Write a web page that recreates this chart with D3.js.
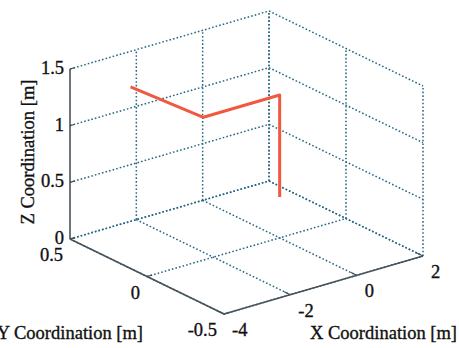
<!DOCTYPE html>
<html>
<head>
<meta charset="utf-8">
<script src="https://cdn.jsdelivr.net/npm/d3@7"></script>
<style>
  body { margin: 0; background: #fff; }
  text { font-family: "Liberation Serif", "Times New Roman", serif; fill: #111; stroke: #111; stroke-width: 0.35; }
</style>
</head>
<body>
<svg id="canvas" width="459" height="348"></svg>
<script>
const width = 459
const height = 348

// axis ticks
const xTicks = [-4, -2, 0, 2]
const yTicks = [-0.5, 0, 0.5]
const zTicks = [0, 0.5, 1, 1.5]

// arm path
const armX = [-2.5, -2.3, 0, 0]
const armY = [0.43, 0, 0, 0]
const armZ = [1.26, 1.26, 1.26, 0.36]

const xScale = d3.scaleLinear().domain([-4, 2]).range([0, 1])
const yScale = d3.scaleLinear().domain([0.5, -0.5]).range([0, 1])
const zScale = d3.scaleLinear().domain([0, 1.5]).range([0, 1])

// screen basis of the box
const origin = [70, 239]
const ex = [199, -58]
const ey = [154, 75]
const ez = [0, -170]

function proj(x, y, z) {
    const a = xScale(x), b = yScale(y), c = zScale(z)
    return [origin[0] + ex[0] * a + ey[0] * b + ez[0] * c,
            origin[1] + ex[1] * a + ey[1] * b + ez[1] * c]
}

const canvas = d3.select("#canvas")
const line = d3.line()

const gridColor = "#276784"
function grid(p) {
    canvas.append("path")
        .attr("d", line(p))
        .attr("fill", "none")
        .attr("stroke", gridColor)
        .attr("stroke-width", 1.5)
        .attr("stroke-dasharray", "1.6,2.1")
}

const xMin = -4, xMax = 2, yMin = -0.5, yMax = 0.5, zMin = 0, zMax = 1.5

// back wall (y = 0.5)
xTicks.forEach(x => { if (x !== xMin) grid([proj(x, yMax, zMin), proj(x, yMax, zMax)]) })
zTicks.forEach(z => grid([proj(xMin, yMax, z), proj(xMax, yMax, z)]))
// side wall (x = 2)
yTicks.forEach(y => grid([proj(xMax, y, zMin), proj(xMax, y, zMax)]))
zTicks.forEach(z => grid([proj(xMax, yMax, z), proj(xMax, yMin, z)]))
// floor
xTicks.forEach(x => grid([proj(x, yMax, zMin), proj(x, yMin, zMin)]))
yTicks.forEach(y => grid([proj(xMin, y, zMin), proj(xMax, y, zMin)]))

// axes
const axisColor = "#47535a"
function axisLine(p, w) {
    canvas.append("path")
        .attr("d", line(p))
        .attr("fill", "none")
        .attr("stroke", axisColor)
        .attr("stroke-width", w || 1.6)
}
axisLine([proj(xMin, yMax, zMin), proj(xMin, yMax, zMax)])
axisLine([proj(xMin, yMax, zMin), proj(xMin, yMin, zMin)])
axisLine([proj(xMin, yMin, zMin), proj(xMax, yMin, zMin)])

// tick marks
zTicks.forEach(z => axisLine([proj(xMin, yMax, z), proj(xMin + 0.15, yMax, z)], 1.2))
yTicks.forEach(y => axisLine([proj(xMin, y, zMin), proj(xMin + 0.15, y, zMin)], 1.2))
xTicks.forEach(x => axisLine([proj(x, yMin, zMin), proj(x, yMin + 0.04, zMin)], 1.2))

// tick labels
zTicks.forEach(z => {
    const p = proj(xMin, yMax, z)
    canvas.append("text")
        .attr("x", p[0] - 6).attr("y", p[1] + 5)
        .attr("text-anchor", "end")
        .attr("font-size", 18.5)
        .text(String(z))
})
yTicks.forEach(y => {
    const p = proj(xMin, y, zMin)
    canvas.append("text")
        .attr("x", p[0] - 7).attr("y", p[1] + 22)
        .attr("text-anchor", "end")
        .attr("font-size", 18.5)
        .text(String(y))
})
xTicks.forEach(x => {
    const p = proj(x, yMin, zMin)
    canvas.append("text")
        .attr("x", p[0] + 8).attr("y", p[1] + 22)
        .attr("text-anchor", "start")
        .attr("font-size", 18.5)
        .text(String(x))
})

// axis titles
canvas.append("text")
    .attr("transform", "translate(34,152) rotate(-90)")
    .attr("text-anchor", "middle")
    .attr("font-size", 18.5)
    .text("Z Coordination [m]")
canvas.append("text")
    .attr("x", 143).attr("y", 339)
    .attr("text-anchor", "end")
    .attr("font-size", 18.5)
    .text("Y Coordination [m]")
canvas.append("text")
    .attr("x", 457).attr("y", 339)
    .attr("text-anchor", "end")
    .attr("font-size", 18.5)
    .text("X Coordination [m]")

// arm
const armPts = armX.map((x, i) => proj(x, armY[i], armZ[i]))
canvas.append("path")
    .attr("d", line(armPts))
    .attr("fill", "none")
    .attr("stroke", "#f0583f")
    .attr("stroke-width", 3)
    .attr("stroke-linejoin", "round")
</script>
</body>
</html>
